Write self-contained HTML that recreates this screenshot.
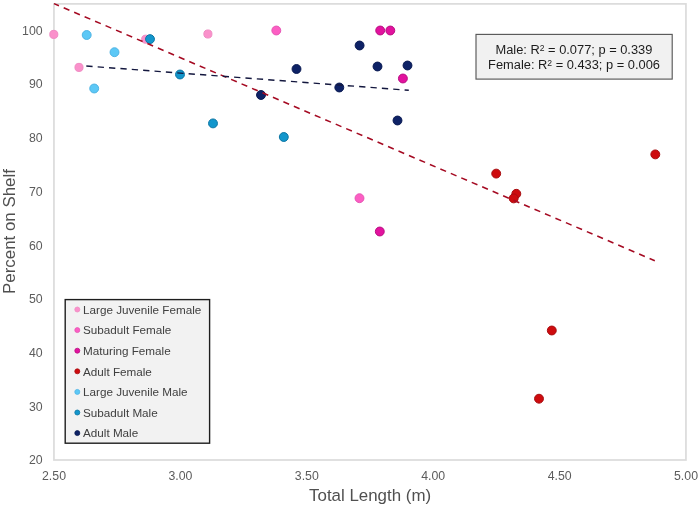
<!DOCTYPE html>
<html><head><meta charset="utf-8"><title>Percent on Shelf vs Total Length</title>
<style>
html,body{margin:0;padding:0;background:#fff;}
body{width:700px;height:508px;overflow:hidden;font-family:"Liberation Sans",sans-serif;}
svg{display:block;will-change:transform;}
text{font-family:"Liberation Sans",sans-serif;}
.tick{font-size:12.3px;fill:#5c5c5c;}
.axt{font-size:16.9px;fill:#505050;}
.leg{font-size:11.7px;fill:#404040;}
.stat{font-size:12.85px;fill:#1c1c1c;}
</style></head><body>
<svg width="700" height="508" viewBox="0 0 700 508">
<rect x="0" y="0" width="700" height="508" fill="#ffffff"/>
<rect x="53.95" y="3.9" width="632.0" height="456.1" fill="#ffffff" stroke="#dbdbdb" stroke-width="1.7"/>
<text class="tick" x="42.6" y="464.4" text-anchor="end">20</text>
<text class="tick" x="42.6" y="410.7" text-anchor="end">30</text>
<text class="tick" x="42.6" y="357.0" text-anchor="end">40</text>
<text class="tick" x="42.6" y="303.2" text-anchor="end">50</text>
<text class="tick" x="42.6" y="249.5" text-anchor="end">60</text>
<text class="tick" x="42.6" y="195.8" text-anchor="end">70</text>
<text class="tick" x="42.6" y="142.2" text-anchor="end">80</text>
<text class="tick" x="42.6" y="88.4" text-anchor="end">90</text>
<text class="tick" x="42.6" y="34.7" text-anchor="end">100</text>
<text class="tick" x="54.0" y="479.9" text-anchor="middle">2.50</text>
<text class="tick" x="180.4" y="479.9" text-anchor="middle">3.00</text>
<text class="tick" x="306.8" y="479.9" text-anchor="middle">3.50</text>
<text class="tick" x="433.2" y="479.9" text-anchor="middle">4.00</text>
<text class="tick" x="559.6" y="479.9" text-anchor="middle">4.50</text>
<text class="tick" x="686.0" y="479.9" text-anchor="middle">5.00</text>
<text class="axt" x="370.1" y="501.3" text-anchor="middle">Total Length (m)</text>
<text class="axt" transform="translate(14.9,231.5) rotate(-90)" text-anchor="middle">Percent on Shelf</text>
<circle cx="53.8" cy="34.40" r="4.05" fill="#fa91cb" stroke="#f08cc3" stroke-width="1.0"/>
<circle cx="79.0" cy="67.40" r="4.05" fill="#fa91cb" stroke="#f08cc3" stroke-width="1.0"/>
<circle cx="207.9" cy="34.00" r="4.05" fill="#fa91cb" stroke="#f08cc3" stroke-width="1.0"/>
<circle cx="145.7" cy="39.20" r="4.05" fill="#fa91cb" stroke="#f08cc3" stroke-width="1.0"/>
<circle cx="276.3" cy="30.50" r="4.45" fill="#fc5ec3" stroke="#e656b5" stroke-width="1.0"/>
<circle cx="359.5" cy="198.20" r="4.45" fill="#fc5ec3" stroke="#e656b5" stroke-width="1.0"/>
<circle cx="380.2" cy="30.50" r="4.45" fill="#e2129e" stroke="#ba0e82" stroke-width="1.0"/>
<circle cx="390.3" cy="30.50" r="4.45" fill="#e2129e" stroke="#ba0e82" stroke-width="1.0"/>
<circle cx="402.9" cy="78.50" r="4.45" fill="#e2129e" stroke="#ba0e82" stroke-width="1.0"/>
<circle cx="379.8" cy="231.50" r="4.45" fill="#e2129e" stroke="#ba0e82" stroke-width="1.0"/>
<circle cx="496.2" cy="173.60" r="4.45" fill="#ce0b0e" stroke="#a80d10" stroke-width="1.0"/>
<circle cx="516.3" cy="193.80" r="4.45" fill="#ce0b0e" stroke="#a80d10" stroke-width="1.0"/>
<circle cx="513.7" cy="198.40" r="4.45" fill="#ce0b0e" stroke="#a80d10" stroke-width="1.0"/>
<circle cx="655.3" cy="154.40" r="4.45" fill="#ce0b0e" stroke="#a80d10" stroke-width="1.0"/>
<circle cx="551.8" cy="330.50" r="4.45" fill="#ce0b0e" stroke="#a80d10" stroke-width="1.0"/>
<circle cx="539.0" cy="398.70" r="4.45" fill="#ce0b0e" stroke="#a80d10" stroke-width="1.0"/>
<circle cx="86.7" cy="35.00" r="4.45" fill="#5cc8f6" stroke="#4fb4e4" stroke-width="1.0"/>
<circle cx="114.5" cy="52.20" r="4.45" fill="#5cc8f6" stroke="#4fb4e4" stroke-width="1.0"/>
<circle cx="94.2" cy="88.50" r="4.45" fill="#5cc8f6" stroke="#4fb4e4" stroke-width="1.0"/>
<circle cx="150.0" cy="39.10" r="4.45" fill="#1296cc" stroke="#0c76a4" stroke-width="1.0"/>
<circle cx="180.0" cy="74.50" r="4.45" fill="#1296cc" stroke="#0c76a4" stroke-width="1.0"/>
<circle cx="213.0" cy="123.40" r="4.45" fill="#1296cc" stroke="#0c76a4" stroke-width="1.0"/>
<circle cx="283.8" cy="137.00" r="4.45" fill="#1296cc" stroke="#0c76a4" stroke-width="1.0"/>
<circle cx="359.6" cy="45.50" r="4.45" fill="#0e2266" stroke="#0a1a52" stroke-width="1.0"/>
<circle cx="296.5" cy="69.00" r="4.45" fill="#0e2266" stroke="#0a1a52" stroke-width="1.0"/>
<circle cx="339.3" cy="87.50" r="4.45" fill="#0e2266" stroke="#0a1a52" stroke-width="1.0"/>
<circle cx="261.0" cy="95.00" r="4.45" fill="#0e2266" stroke="#0a1a52" stroke-width="1.0"/>
<circle cx="377.5" cy="66.50" r="4.45" fill="#0e2266" stroke="#0a1a52" stroke-width="1.0"/>
<circle cx="407.5" cy="65.50" r="4.45" fill="#0e2266" stroke="#0a1a52" stroke-width="1.0"/>
<circle cx="397.5" cy="120.50" r="4.45" fill="#0e2266" stroke="#0a1a52" stroke-width="1.0"/>
<line x1="54.0" y1="3.6" x2="654.8" y2="260.7" stroke="#a50a22" stroke-width="1.55" stroke-dasharray="6.2 5.18" stroke-dashoffset="0.83"/>
<line x1="86.3" y1="66.0" x2="408.8" y2="90.3" stroke="#13173e" stroke-width="1.4" stroke-dasharray="6.3 5.1"/>
<rect x="65.2" y="299.6" width="144.4" height="143.6" fill="#f2f2f2" stroke="#1e1e1e" stroke-width="1.4"/>
<circle cx="77.3" cy="309.50" r="2.5" fill="#fa91cb" stroke="#f08cc3" stroke-width="0.8"/>
<text class="leg" x="83" y="313.8">Large Juvenile Female</text>
<circle cx="77.3" cy="330.10" r="2.5" fill="#fc5ec3" stroke="#e656b5" stroke-width="0.8"/>
<text class="leg" x="83" y="334.4">Subadult Female</text>
<circle cx="77.3" cy="350.70" r="2.5" fill="#e2129e" stroke="#ba0e82" stroke-width="0.8"/>
<text class="leg" x="83" y="355.0">Maturing Female</text>
<circle cx="77.3" cy="371.30" r="2.5" fill="#ce0b0e" stroke="#a80d10" stroke-width="0.8"/>
<text class="leg" x="83" y="375.6">Adult Female</text>
<circle cx="77.3" cy="391.90" r="2.5" fill="#5cc8f6" stroke="#4fb4e4" stroke-width="0.8"/>
<text class="leg" x="83" y="396.2">Large Juvenile Male</text>
<circle cx="77.3" cy="412.50" r="2.5" fill="#1296cc" stroke="#0c76a4" stroke-width="0.8"/>
<text class="leg" x="83" y="416.8">Subadult Male</text>
<circle cx="77.3" cy="433.10" r="2.5" fill="#0e2266" stroke="#0a1a52" stroke-width="0.8"/>
<text class="leg" x="83" y="437.4">Adult Male</text>
<rect x="476" y="34.4" width="196.2" height="44.7" fill="#f1f1f1" stroke="#585858" stroke-width="1.15"/>
<text class="stat" x="573.9" y="53.9" text-anchor="middle">Male: R<tspan font-size="8.6px" dy="-3.3">2</tspan><tspan dy="3.3"> = 0.077; p = 0.339</tspan></text>
<text class="stat" x="574.0" y="69" text-anchor="middle">Female: R<tspan font-size="8.6px" dy="-3.3">2</tspan><tspan dy="3.3"> = 0.433; p = 0.006</tspan></text>
</svg>
</body></html>
